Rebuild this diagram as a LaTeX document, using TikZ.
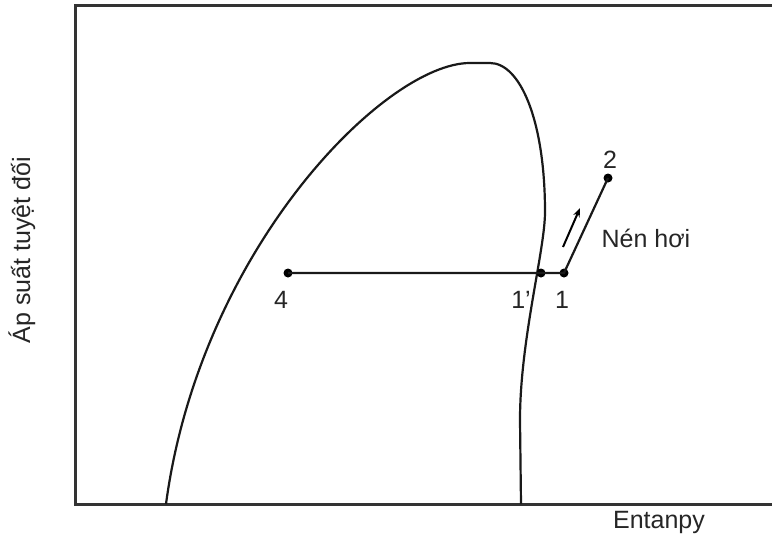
\documentclass[tikz,border=0pt]{standalone}
\usepackage{fontspec}
\setmainfont{Liberation Sans}
\usetikzlibrary{arrows.meta}
\begin{document}
\begin{tikzpicture}[x=1pt,y=-1pt,
  frame/.style={line width=3pt,draw=black!80},
  curve/.style={line width=2.2pt,draw=black!90},
  proc/.style={line width=2.2pt,draw=black!90},
  dot/.style={circle,fill=black,inner sep=0pt,minimum size=9pt},
  lbl/.style={text=black!85,font=\fontsize{25}{29}\selectfont,inner sep=0pt}]
\useasboundingbox (0,0) rectangle (772,539);
\fill[white] (0,0) rectangle (772,539);
% frame
\coordinate (fr1) at (772,5);
\coordinate (fr2) at (75,5);
\coordinate (fr3) at (75,504);
\coordinate (fr4) at (772,504);
\draw[frame] (fr1) -- (fr2) -- (fr3) -- (fr4);
% saturation dome
\draw[curve,line join=round] (166,504) .. controls (200,250) and (385,63) .. (470,63)
  -- (490,63) .. controls (520,63) and (545,120) .. (545,212)
  .. controls (545,250) and (520,340) .. (520,420) -- (521,504);
% state points
\node[dot] (p4) at (288,273) {};
\node[dot] (p1p) at (541,273) {};
\node[dot] (p1) at (564,273) {};
\node[dot] (p2) at (608,178) {};
\draw[proc] (p4.center) -- (p1p.center) -- (p1.center) -- (p2.center);
% compression arrow
\coordinate (a0) at (563,247);
\coordinate (a1) at (580,208);
\draw[line width=2pt,-{Stealth[length=9pt,width=7pt]}] (a0) -- (a1);
% labels
\node[lbl] (l4) at (281,300) {4};
\node[lbl] (l1p) at (521,300) {1’};
\node[lbl] (l1) at (562,300) {1};
\node[lbl] (l2) at (610,160) {2};
\node[lbl] (nen) at (646,238) {Nén hơi};
\node[lbl] (xl) at (659,522) {Entanpy};
\node[lbl,rotate=90] (yl) at (22,250) {Áp suất tuyệt đối};
\end{tikzpicture}
\end{document}
